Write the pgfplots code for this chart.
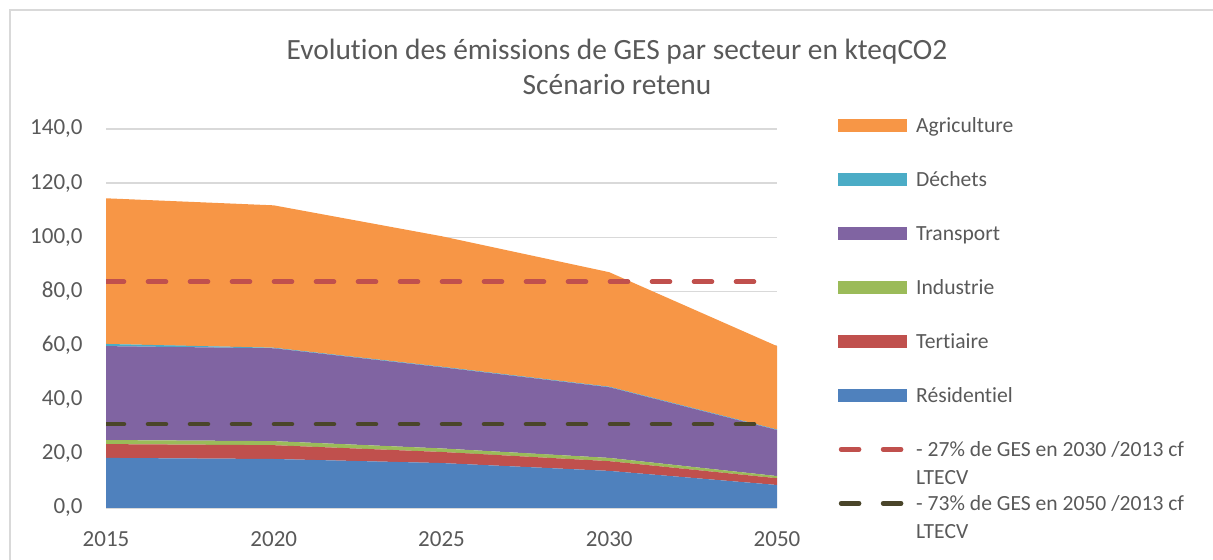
\documentclass[border=0pt]{standalone}
\usepackage{fontspec}
\setmainfont{Carlito}[Ligatures=NoCommon]
\usepackage{pgfplots}
\pgfplotsset{compat=1.18}

\definecolor{res}{HTML}{4F81BD}
\definecolor{ter}{HTML}{C0504D}
\definecolor{ind}{HTML}{9BBB59}
\definecolor{tra}{HTML}{8064A2}
\definecolor{dec}{HTML}{4BACC6}
\definecolor{agr}{HTML}{F79646}
\definecolor{obj}{HTML}{4A452A}
\definecolor{txt}{HTML}{595959}
\definecolor{grd}{HTML}{D9D9D9}

% per-sector values, kteqCO2 (x: 0=2015,1=2020,2=2025,3=2030,4=2050)
\pgfplotstableread{
x  res   ter  ind  tra   dec  agr
0  18.5  5.1  1.5  34.7  0.8  53.8
1  18.1  5.1  1.5  34.3  0.2  52.6
2  16.6  4.1  1.3  30.0  0.2  48.2
3  13.7  3.6  1.2  26.1  0.2  42.3
4   8.5  2.5  0.8  17.0  0.2  30.8
}\ges

\pgfplotsset{
  sqleg/.style={legend image code/.code={\fill[#1] (0pt,-3pt) rectangle (34pt,3pt);}},
  dashleg/.style={legend image code/.code={\draw[#1, line width=2.3pt, line cap=round,
      dash pattern=on 9pt off 12pt] (1.15pt,0pt) -- (31.15pt,0pt);}},
  base/.style={
    at={(53pt,26pt)}, anchor=south west,
    scale only axis, width=335.5pt, height=189.5pt,
    xmin=0, xmax=4, ymin=0, ymax=140,
  },
}

\begin{document}
\begin{tikzpicture}[x=1pt,y=1pt]
\useasboundingbox (0,0) rectangle (606.5,280);
\draw[grd, line width=0.8pt] (5,0) -- (5,275) -- (606.5,275);

\begin{axis}[base,
  stack plots=y,
  axis x line*=bottom,
  x axis line style={grd, line width=0.75pt, -},
  y axis line style={draw=none},
  major tick length=0pt,
  xtick={0,1,2,3,4},
  xticklabels={2015,2020,2025,2030,2050},
  ytick={0,20,...,140},
  ymajorgrids=true,
  grid style={grd, line width=0.75pt},
  tick label style={font=\fontsize{11.5}{13}\selectfont, text=txt},
  yticklabel style={anchor=east, inner sep=0pt, xshift=-11.5pt},
  xticklabel style={anchor=north, inner sep=0pt, yshift=-11.8pt},
  /pgf/number format/.cd, fixed, fixed zerofill, precision=1, use comma, assume math mode=true,
]
\addplot[fill=res, draw=none] table[x=x,y=res] {\ges} \closedcycle;
\addplot[fill=ter, draw=none] table[x=x,y=ter] {\ges} \closedcycle;
\addplot[fill=ind, draw=none] table[x=x,y=ind] {\ges} \closedcycle;
\addplot[fill=tra, draw=none] table[x=x,y=tra] {\ges} \closedcycle;
\addplot[fill=dec, draw=none] table[x=x,y=dec] {\ges} \closedcycle;
\addplot[fill=agr, draw=none] table[x=x,y=agr] {\ges} \closedcycle;
\end{axis}

\begin{axis}[base, hide axis,
  legend cell align=left,
  legend style={at={(1.0909,1.082)}, anchor=north west, draw=none, fill=none,
    inner sep=0pt, font=\fontsize{10.8}{12.5}\selectfont, text=txt,
    nodes={inner sep=0pt, text height=17pt, text depth=10pt},
    column sep=4.5pt},
]
\addlegendimage{sqleg=agr}\addlegendentry{Agriculture}
\addlegendimage{sqleg=dec}\addlegendentry{Déchets}
\addlegendimage{sqleg=tra}\addlegendentry{Transport}
\addlegendimage{sqleg=ind}\addlegendentry{Industrie}
\addlegendimage{sqleg=ter}\addlegendentry{Tertiaire}
\addlegendimage{sqleg=res}\addlegendentry{Résidentiel}
\addlegendimage{dashleg=ter}\addlegendentry{\begin{tabular}[t]{@{}l@{}}- 27\% de GES en 2030 /2013 cf\\[1.8pt]LTECV\end{tabular}}
\addlegendimage{dashleg=obj}\addlegendentry{\begin{tabular}[t]{@{}l@{}}- 73\% de GES en 2050 /2013 cf\\[1.8pt]LTECV\end{tabular}}
\addplot[forget plot, ter, line width=2.3pt, line cap=round, dash pattern=on 9pt off 12pt]
  coordinates {(0,83.6)(4,83.6)};
\addplot[forget plot, obj, line width=2.3pt, line cap=round, dash pattern=on 9pt off 12pt]
  coordinates {(0,31.0)(4,31.0)};
\end{axis}

\node[font=\fontsize{14.7}{17.5}\selectfont, text=txt, align=center] at (308.5,246.5)
  {Evolution des émissions de GES par secteur en kteqCO2\\Scénario retenu};
\end{tikzpicture}
\end{document}
